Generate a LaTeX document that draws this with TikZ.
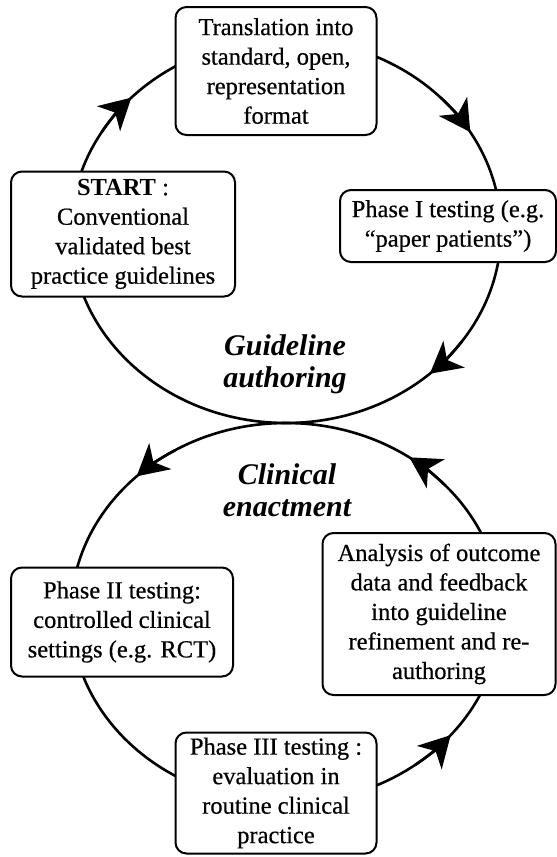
\documentclass[tikz,border=0pt]{standalone}
\usepackage{fontspec}
\setmainfont{Liberation Serif}[UprightFeatures={FakeBold=0.5}]
\usetikzlibrary{arrows.meta}
\begin{document}
\begin{tikzpicture}[x=1pt, y=1pt, line join=round,
        stage/.style={draw, line width=2pt, rounded corners=11pt, fill=white, align=center, inner sep=0pt, font=\fontsize{24.5}{29.5}\selectfont},
        loopname/.style={align=center, font=\fontsize{30}{32}\selectfont\bfseries\itshape},
        loopline/.style={line width=2.6pt},
        flowtip/.style={line width=2.6pt, -{Stealth[length=31pt, width=34pt, inset=9pt]}}]
    \useasboundingbox (0,0) rectangle (557,-857);
    % the two loops
    \coordinate (upc) at (286,-231);
    \coordinate (lowc) at (286,-613);
    \draw[loopline] (upc) ellipse[x radius=215pt, y radius=192pt];
    \draw[loopline] (lowc) ellipse[x radius=215pt, y radius=190pt];
    \foreach \a [evaluate=\a as \b using \a+13] in {136,31,-48}
        \draw[flowtip] (upc) ++(\b:215pt and 192pt) arc[start angle=\b, end angle=\a, x radius=215pt, y radius=192pt];
    \foreach \a [evaluate=\a as \b using \a-13] in {134,55,-40}
        \draw[flowtip] (lowc) ++(\b:215pt and 190pt) arc[start angle=\b, end angle=\a, x radius=215pt, y radius=190pt];
    % stages
    \node[stage, minimum width=201pt, minimum height=128pt] (translate) at (276,-71) {Translation into\\standard, open,\\representation\\format};
    \node[stage, minimum width=224pt, minimum height=125pt] (start) at (123,-234) {\textbf{START} :\\Conventional\\validated best\\practice guidelines};
    \node[stage, minimum width=216pt, minimum height=72pt] (phaseone) at (448,-226) {Phase I testing (e.g.\\“paper patients”)};
    \node[loopname] (authoring) at (285,-364) {Guideline\\authoring};
    \node[loopname] (enactment) at (287,-490) {Clinical\\enactment};
    \node[stage, minimum width=222pt, minimum height=109pt] (phasetwo) at (122,-622) {Phase II testing:\\controlled clinical\\settings (e.g. RCT)};
    \node[stage, minimum width=233pt, minimum height=162pt] (analysis) at (439,-614) {Analysis of outcome\\data and feedback\\into guideline\\refinement and re-\\authoring};
    \node[stage, minimum width=201pt, minimum height=121pt] (phasethree) at (276,-793) {Phase III testing :\\evaluation in\\routine clinical\\practice};
\end{tikzpicture}
\end{document}
